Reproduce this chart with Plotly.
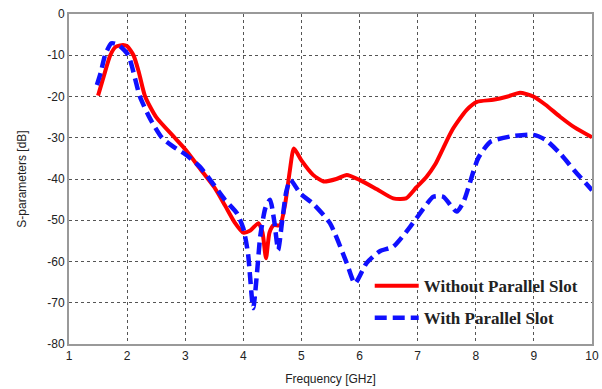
import plotly.graph_objects as go

freq_without = [1.5, 1.6, 1.71, 1.8, 1.93, 2.0, 2.11, 2.2, 2.31, 2.5, 2.82, 3.0, 3.25, 3.5, 3.68,
                3.85, 4.0, 4.12, 4.26, 4.33, 4.39, 4.45, 4.52, 4.63, 4.72, 4.80, 4.87, 5.0, 5.2,
                5.38, 5.6, 5.78, 6.0, 6.3, 6.58, 6.8, 6.98, 7.15, 7.3, 7.44, 7.6, 7.84, 8.02,
                8.3, 8.55, 8.76, 8.99, 9.2, 9.45, 9.7, 10.0]
s_without = [-19.8, -15, -10, -8, -7.5, -7.8, -10, -14, -20, -25, -30, -32.8, -37.4, -42, -46.3,
             -50.5, -53, -52.5, -50.7, -53, -59.2, -53, -51.2, -51.2, -46, -38, -32.6, -35.5, -39,
             -40.6, -40, -39, -40.2, -42.5, -44.7, -44.7, -42, -39.5, -36.5, -32.5, -28, -23.3, -21.3,
             -20.8, -20, -19.1, -20, -22, -24.9, -27.5, -29.9]

freq_with = [1.48, 1.55, 1.62, 1.73, 1.85, 2.02, 2.22, 2.4, 2.6, 2.8, 3.0, 3.25, 3.43, 3.68, 3.89,
             4.0, 4.08, 4.17, 4.24, 4.29, 4.38, 4.46, 4.53, 4.60, 4.67, 4.74, 4.81, 4.98, 5.2,
             5.49, 5.78, 5.92, 6.12, 6.35, 6.58, 6.87, 6.98, 7.27, 7.44, 7.67, 7.79, 8.04, 8.25,
             8.59, 8.99, 9.2, 9.45, 9.7, 10.0]
s_with = [-17.2, -14, -10, -7.1, -7.5, -10, -20, -25.5, -30, -32.2, -34, -37, -40.2, -45, -48.3,
          -52, -58, -71.3, -62, -54, -47, -45, -50, -57.2, -50, -43, -40.2, -43.5, -46,
          -50.7, -60.4, -65.3, -60.4, -57.5, -56.4, -51.6, -49.5, -44.3, -44.3, -47.9, -45.5, -35, -31,
          -29.7, -29.3, -30.5, -33.8, -38, -42.7]

x_ticks = [1, 2, 3, 4, 5, 6, 7, 8, 9, 10]
y_ticks = [0, -10, -20, -30, -40, -50, -60, -70, -80]

fig = go.Figure()
fig.add_trace(go.Scatter(
    x=freq_without, y=s_without, mode="lines", name="<b>Without Parallel Slot</b>",
    legendgroup="a",
    line=dict(color="#ff0000", width=4, shape="spline", smoothing=0.6),
))
fig.add_trace(go.Scatter(
    x=freq_with, y=s_with, mode="lines", name="<b>With Parallel Slot</b>",
    legendgroup="b",
    line=dict(color="#1010ff", width=4.5, dash="12px,6px", shape="spline", smoothing=0.6),
))

grid = dict(showgrid=True, gridcolor="#555555", griddash="3px,3px", gridwidth=1,
            zeroline=False, showline=True, linecolor="#999999", linewidth=2, mirror=True,
            ticks="", automargin=False,
            tickfont=dict(family="Arial, Liberation Sans", size=12, color="#222222"))

fig.update_xaxes(range=[1, 10], tickvals=x_ticks, ticktext=[str(v) for v in x_ticks],
                 title=dict(text="Frequency [GHz]", font=dict(family="Arial, Liberation Sans", size=12, color="#222222"),
                            standoff=12), **grid)
fig.update_yaxes(range=[-80, 0], tickvals=y_ticks, ticktext=[str(v) for v in y_ticks],
                 title=dict(text="S-parameters [dB]", font=dict(family="Arial, Liberation Sans", size=12, color="#222222"),
                            standoff=18), **grid)

fig.update_layout(
    width=602, height=389,
    margin=dict(l=69, r=10, t=14, b=45),
    plot_bgcolor="white", paper_bgcolor="white",
    legend=dict(x=0.575, y=0.23, xanchor="left", yanchor="top",
                bgcolor="rgba(0,0,0,0)", borderwidth=0, traceorder="grouped",
                font=dict(family="Times New Roman, Liberation Serif", size=17, color="#222222"),
                tracegroupgap=7, itemwidth=44),
)

fig.write_html("out.html", config={"displayModeBar": False},
               post_script="document.body.style.margin='0';document.body.style.overflow='hidden';")
